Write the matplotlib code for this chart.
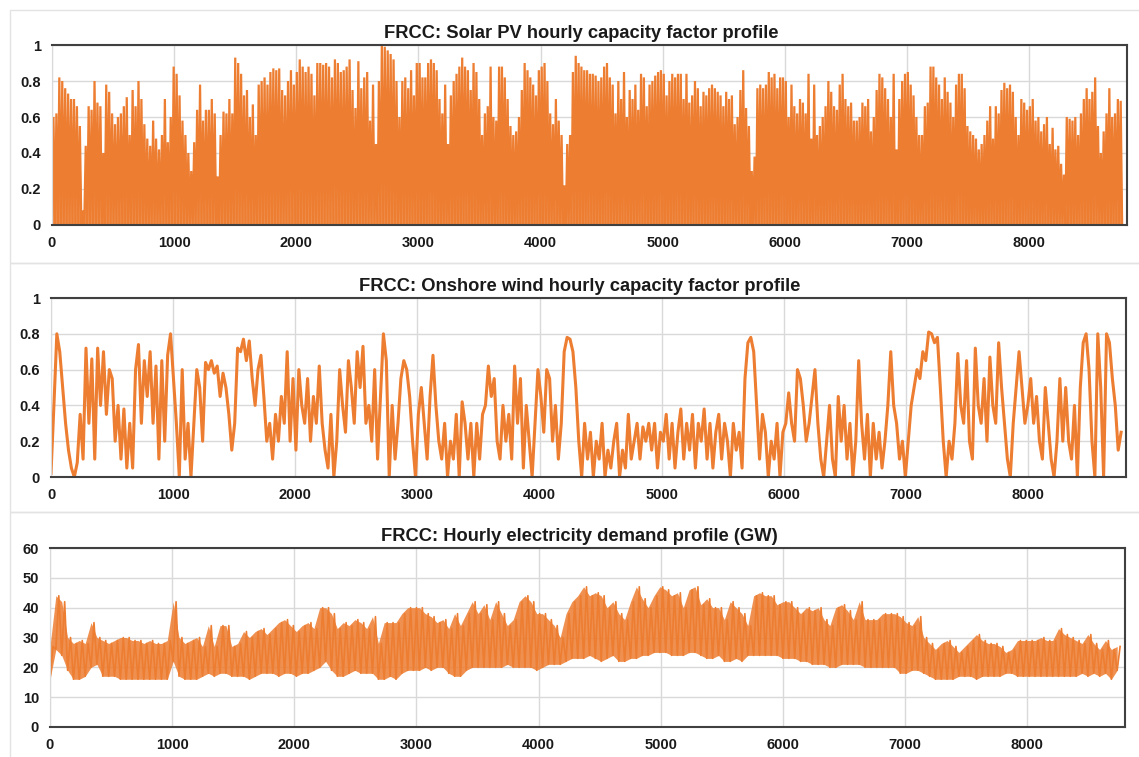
import numpy as np
import matplotlib
matplotlib.use("Agg")
import matplotlib.pyplot as plt
from matplotlib.patches import Rectangle
from matplotlib.ticker import FuncFormatter

# Daily peak of the solar PV capacity factor (three parts of the year)
solar_part1 = [
    0.60, 0.62, 0.82, 0.80, 0.76, 0.73, 0.70, 0.70, 0.66, 0.55,
    0.08, 0.44, 0.66, 0.64, 0.80, 0.68, 0.66, 0.40, 0.78, 0.74,
    0.62, 0.56, 0.60, 0.62, 0.66, 0.71, 0.50, 0.75, 0.66, 0.80,
    0.70, 0.56, 0.48, 0.44, 0.58, 0.48, 0.42, 0.50, 0.70, 0.46,
    0.60, 0.88, 0.84, 0.72, 0.58, 0.50, 0.40, 0.30, 0.46, 0.64,
    0.78, 0.58, 0.64, 0.64, 0.70, 0.62, 0.27, 0.50, 0.63, 0.62,
    0.70, 0.62, 0.93, 0.90, 0.84, 0.72, 0.75, 0.60, 0.67, 0.50,
    0.78, 0.80, 0.82, 0.78, 0.85, 0.87, 0.86, 0.87, 0.75, 0.72,
    0.80, 0.86, 0.78, 0.85, 0.92, 0.88, 0.85, 0.88, 0.84, 0.72,
    0.90, 0.90, 0.89, 0.90, 0.88, 0.82, 0.92, 0.90, 0.85, 0.86,
    0.88, 0.92, 0.75, 0.65, 0.91, 0.76, 0.82, 0.85, 0.58, 0.78,
    0.45, 0.80, 1.00, 0.99, 0.97, 0.95, 0.92, 0.80, 0.60, 0.80,
    0.82, 0.76]
solar_part2 = [
    0.86, 0.72, 0.90, 0.90, 0.82, 0.82, 0.90, 0.92, 0.90, 0.86,
    0.70, 0.62, 0.78, 0.45, 0.72, 0.80, 0.84, 0.88, 0.93, 0.88,
    0.86, 0.75, 0.90, 0.85, 0.70, 0.50, 0.62, 0.66, 0.88, 0.60,
    0.58, 0.88, 0.88, 0.82, 0.70, 0.55, 0.50, 0.52, 0.60, 0.75,
    0.90, 0.86, 0.82, 0.78, 0.72, 0.86, 0.88, 0.90, 0.80, 0.62,
    0.56, 0.70, 0.58, 0.50, 0.22, 0.45, 0.50, 0.85, 0.94, 0.90,
    0.88, 0.86, 0.86, 0.84, 0.84, 0.83, 0.80, 0.82, 0.88, 0.90,
    0.82, 0.78, 0.62, 0.80, 0.70, 0.85, 0.60, 0.75, 0.70, 0.78,
    0.64, 0.84, 0.82, 0.66, 0.78, 0.80, 0.83, 0.85, 0.86, 0.84,
    0.72, 0.80, 0.84, 0.82, 0.84, 0.84, 0.70, 0.84, 0.68, 0.72,
    0.80, 0.76, 0.66, 0.74, 0.72, 0.76, 0.78, 0.76, 0.74, 0.72,
    0.66, 0.74, 0.70, 0.72, 0.56, 0.60, 0.75, 0.86, 0.65, 0.55,
    0.30, 0.38, 0.76, 0.78, 0.76, 0.78]
solar_part3 = [
    0.85, 0.82, 0.84, 0.76, 0.82, 0.82, 0.80, 0.60, 0.78, 0.66,
    0.62, 0.70, 0.68, 0.62, 0.84, 0.48, 0.78, 0.50, 0.55, 0.60,
    0.66, 0.80, 0.74, 0.66, 0.64, 0.78, 0.84, 0.70, 0.66, 0.68,
    0.58, 0.58, 0.60, 0.68, 0.66, 0.70, 0.52, 0.60, 0.75, 0.84,
    0.82, 0.76, 0.70, 0.60, 0.84, 0.42, 0.70, 0.80, 0.84, 0.85,
    0.78, 0.72, 0.60, 0.50, 0.50, 0.66, 0.68, 0.88, 0.88, 0.82,
    0.78, 0.70, 0.82, 0.74, 0.68, 0.60, 0.78, 0.84, 0.84, 0.76,
    0.55, 0.52, 0.50, 0.48, 0.42, 0.45, 0.50, 0.58, 0.66, 0.48,
    0.66, 0.62, 0.75, 0.79, 0.76, 0.78, 0.74, 0.60, 0.50, 0.70,
    0.68, 0.64, 0.66, 0.70, 0.58, 0.60, 0.52, 0.56, 0.60, 0.45,
    0.54, 0.42, 0.44, 0.34, 0.28, 0.60, 0.59, 0.58, 0.60, 0.50,
    0.62, 0.70, 0.76, 0.70, 0.74, 0.82, 0.55, 0.40, 0.52, 0.62,
    0.76, 0.60, 0.62, 0.70, 0.69]
solar_part_hours = [0, 2928, 5856, 8760]

# Onshore wind capacity factor, about one reading per day (rows of 1000 h)
wind_values = [
    0.02, 0.40, 0.80, 0.70, 0.50, 0.30, 0.15, 0.05, 0.00, 0.08, 0.35, 0.10, 0.72, 0.30,
    0.66, 0.10, 0.72, 0.40, 0.70, 0.35, 0.60, 0.55, 0.20, 0.40, 0.10, 0.38, 0.05, 0.30,
    0.05, 0.60, 0.74, 0.30, 0.65, 0.45, 0.70, 0.30, 0.62, 0.10, 0.65, 0.20, 0.68, 0.80,
    0.55, 0.30, 0.00, 0.60, 0.10, 0.30, 0.00, 0.30, 0.60, 0.50, 0.20, 0.64, 0.60, 0.65,
    0.58, 0.62, 0.45, 0.58, 0.50, 0.35, 0.15, 0.30, 0.72, 0.70, 0.77, 0.65, 0.76, 0.55,
    0.40, 0.60, 0.68, 0.45, 0.20, 0.30, 0.10, 0.35, 0.20, 0.45, 0.30, 0.70, 0.20, 0.55,
    0.15, 0.60, 0.40, 0.30, 0.55, 0.20, 0.45, 0.30, 0.62, 0.30, 0.15, 0.05, 0.35, 0.00,
    0.20, 0.60, 0.40, 0.25, 0.65, 0.50, 0.30, 0.70, 0.50, 0.73, 0.30, 0.40, 0.20, 0.60,
    0.10, 0.45, 0.80, 0.65, 0.00, 0.40, 0.10, 0.30, 0.55, 0.65, 0.60, 0.45, 0.20, 0.00,
    0.35, 0.50, 0.30, 0.10, 0.45, 0.68, 0.40, 0.20, 0.10, 0.30, 0.00, 0.20, 0.10, 0.35,
    0.00, 0.42, 0.30, 0.10, 0.30, 0.00, 0.30, 0.10, 0.35, 0.40, 0.62, 0.45, 0.55, 0.20,
    0.10, 0.40, 0.20, 0.35, 0.10, 0.62, 0.30, 0.55, 0.05, 0.40, 0.20, 0.00, 0.30, 0.60,
    0.45, 0.25, 0.60, 0.55, 0.20, 0.40, 0.10, 0.30, 0.70, 0.78, 0.77, 0.70, 0.50, 0.20,
    0.00, 0.30, 0.10, 0.25, 0.00, 0.20, 0.10, 0.30, 0.00, 0.15, 0.05, 0.20, 0.30, 0.00,
    0.15, 0.05, 0.35, 0.10, 0.20, 0.30, 0.10, 0.28, 0.20, 0.30, 0.15, 0.30, 0.05, 0.25,
    0.20, 0.35, 0.10, 0.30, 0.05, 0.25, 0.38, 0.10, 0.30, 0.15, 0.35, 0.05, 0.30, 0.20,
    0.38, 0.10, 0.30, 0.05, 0.25, 0.35, 0.10, 0.30, 0.20, 0.00, 0.30, 0.15, 0.25, 0.05,
    0.55, 0.75, 0.78, 0.70, 0.40, 0.10, 0.35, 0.25, 0.00, 0.20, 0.10, 0.30, 0.00, 0.25,
    0.30, 0.47, 0.30, 0.20, 0.60, 0.55, 0.40, 0.20, 0.30, 0.45, 0.60, 0.30, 0.10, 0.00,
    0.20, 0.40, 0.10, 0.00, 0.45, 0.20, 0.40, 0.10, 0.30, 0.00, 0.20, 0.65, 0.30, 0.10,
    0.35, 0.00, 0.30, 0.10, 0.25, 0.05, 0.20, 0.40, 0.70, 0.40, 0.30, 0.10, 0.20, 0.00,
    0.20, 0.40, 0.50, 0.60, 0.55, 0.70, 0.65, 0.81, 0.80, 0.75, 0.78, 0.50, 0.20, 0.00,
    0.20, 0.10, 0.30, 0.69, 0.40, 0.30, 0.65, 0.20, 0.10, 0.72, 0.40, 0.30, 0.55, 0.20,
    0.67, 0.40, 0.30, 0.75, 0.50, 0.30, 0.10, 0.00, 0.30, 0.50, 0.70, 0.50, 0.30, 0.40,
    0.55, 0.30, 0.45, 0.20, 0.10, 0.50, 0.30, 0.10, 0.00, 0.20, 0.55, 0.20, 0.50, 0.20,
    0.10, 0.40, 0.00, 0.50, 0.75, 0.80, 0.60, 0.20, 0.00, 0.80, 0.50, 0.00, 0.80, 0.75,
    0.55, 0.40, 0.15, 0.25]

# Demand envelope (GW), one max/min pair every 48 h
demand_step_h = 48
demand_max = [
    27, 44, 42, 30, 28, 29, 28, 35, 30, 29, 28, 29, 30, 30, 29, 29, 28, 29, 28, 28, 29,
    42, 30, 28, 29, 30, 27, 34, 27, 34, 34, 27, 28, 32, 30, 32, 33, 31, 33, 35, 36, 34,
    32, 34, 35, 33, 40, 40, 38, 33, 35, 34, 36, 35, 33, 37, 28, 35, 35, 35, 38, 40, 40,
    40, 38, 37, 35, 36, 33, 38, 34, 38, 42, 38, 41, 36, 42, 38, 34, 36, 42, 44, 42, 38,
    38, 36, 34, 30, 38, 42, 44, 47, 44, 45, 44, 40, 42, 38, 36, 42, 47, 43, 40, 44,
    47, 46, 44, 45, 40, 46, 47, 41, 43, 40, 40, 36, 42, 40, 38, 34, 44, 45, 44, 44, 41,
    42, 42, 40, 38, 40, 39, 40, 36, 34, 40, 41, 39, 36, 42, 36, 36, 36, 38, 38, 38, 37,
    35, 34, 37, 30, 28, 26, 28, 29, 27, 25, 27, 29, 31, 29, 28, 28, 27, 25, 26, 29, 29,
    29, 29, 30, 29, 29, 33, 31, 30, 29, 28, 31, 28, 26, 29, 26, 27]
demand_min = [
    16, 26, 24, 19, 16, 16, 17, 20, 21, 17, 17, 17, 16, 16, 16, 16, 16, 16, 16, 16, 16,
    22, 17, 16, 16, 16, 17, 18, 17, 18, 18, 17, 17, 17, 16, 17, 18, 18, 18, 17, 18, 18,
    17, 18, 18, 19, 20, 22, 19, 17, 17, 18, 19, 18, 18, 18, 16, 16, 17, 16, 18, 19, 19,
    19, 20, 19, 20, 20, 18, 17, 17, 19, 20, 20, 20, 20, 20, 20, 21, 20, 20, 20, 20, 19,
    20, 21, 21, 21, 22, 23, 23, 23, 24, 23, 22, 23, 24, 22, 22, 23, 23, 24, 24, 25,
    25, 25, 24, 24, 24, 25, 25, 24, 23, 23, 24, 22, 22, 23, 22, 24, 24, 24, 24, 24, 24,
    23, 23, 23, 22, 22, 21, 21, 21, 20, 20, 21, 21, 21, 21, 20, 20, 20, 20, 20, 20, 18,
    18, 19, 19, 18, 17, 16, 16, 16, 16, 17, 17, 17, 16, 17, 17, 17, 17, 18, 18, 17, 17,
    17, 17, 17, 17, 17, 17, 17, 17, 17, 18, 17, 18, 17, 18, 16, 19]

titles = ["FRCC: Solar PV hourly capacity factor profile",
          "FRCC: Onshore wind hourly capacity factor profile",
          "FRCC: Hourly electricity demand profile (GW)"]
hour_ticks = list(range(0, 9000, 1000))

ORANGE = "#ED7D31"
GRID = "#D9D9D9"
DARK = "#404040"

plt.rcParams["font.family"] = ["Liberation Sans", "DejaVu Sans"]

W, H = 1139, 757
fig = plt.figure(figsize=(W / 100, H / 100), dpi=100)


def px_axes(left, top, right, bottom):
    return fig.add_axes([left / W, 1 - bottom / H, (right - left) / W, (bottom - top) / H])


# light chart-area borders
for top, bottom in [(10, 263), (263, 512), (512, 770)]:
    fig.patches.append(Rectangle((10 / W, 1 - bottom / H), 1.2, (bottom - top) / H,
                                 transform=fig.transFigure, fill=False,
                                 edgecolor="#E3E3E3", lw=1))

ax1 = px_axes(52, 45, 1127, 225)
ax2 = px_axes(51, 298, 1126, 477)
ax3 = px_axes(50, 548, 1125, 727)

# solar: night at zero, daily peak at noon
xs, ys = [], []
for k, part in enumerate([solar_part1, solar_part2, solar_part3]):
    a, b = solar_part_hours[k], solar_part_hours[k + 1]
    step = (b - a) / len(part)
    for i, peak in enumerate(part):
        xs += [a + i * step, a + (i + 0.5) * step]
        ys += [0, peak]
xs.append(solar_part_hours[-1])
ys.append(0)
ax1.fill_between(xs, ys, color=ORANGE, alpha=0.8, linewidth=0)
ax1.plot(xs, ys, color=ORANGE, lw=1.6, solid_joinstyle="miter")

# wind
xw = np.linspace(0, 8760, len(wind_values))
ax2.plot(xw, wind_values, color=ORANGE, lw=2.2)

# demand: band between the envelopes, with the daily swing drawn over it
xd, yd = [], []
for i, (lo, hi) in enumerate(zip(demand_min, demand_max)):
    xd += [i * demand_step_h, i * demand_step_h + demand_step_h / 2]
    yd += [lo, hi]
x_env = np.arange(len(demand_max)) * demand_step_h
ax3.fill_between(x_env, demand_min, demand_max, color=ORANGE, alpha=0.85, linewidth=0)
ax3.plot(xd, yd, color=ORANGE, lw=1.2)

for ax, title in zip([ax1, ax2, ax3], titles):
    ax.set_xlim(0, 8800)
    ax.set_xticks(hour_ticks)
    ax.grid(True, color=GRID, lw=1)
    ax.set_axisbelow(True)
    for side in ["top", "right", "bottom"]:
        ax.spines[side].set_color(DARK)
        ax.spines[side].set_linewidth(1.5)
    ax.spines["left"].set_color(GRID)
    ax.tick_params(length=0, labelsize=10.5, pad=8, colors="#1A1A1A")
    ax.yaxis.set_major_formatter(FuncFormatter(lambda v, p: "%g" % v))
    ax.set_title(title, fontsize=13.2, fontweight="bold", x=0.492, pad=5, color="#1A1A1A")

for ax in [ax1, ax2]:
    ax.set_ylim(0, 1)
    ax.set_yticks([0, 0.2, 0.4, 0.6, 0.8, 1])
ax3.set_ylim(0, 60)
ax3.set_yticks(range(0, 70, 10))

for ax in [ax1, ax2, ax3]:
    for lab in ax.get_xticklabels() + ax.get_yticklabels():
        lab.set_fontweight("bold")

fig.savefig("out.png", dpi=100)
